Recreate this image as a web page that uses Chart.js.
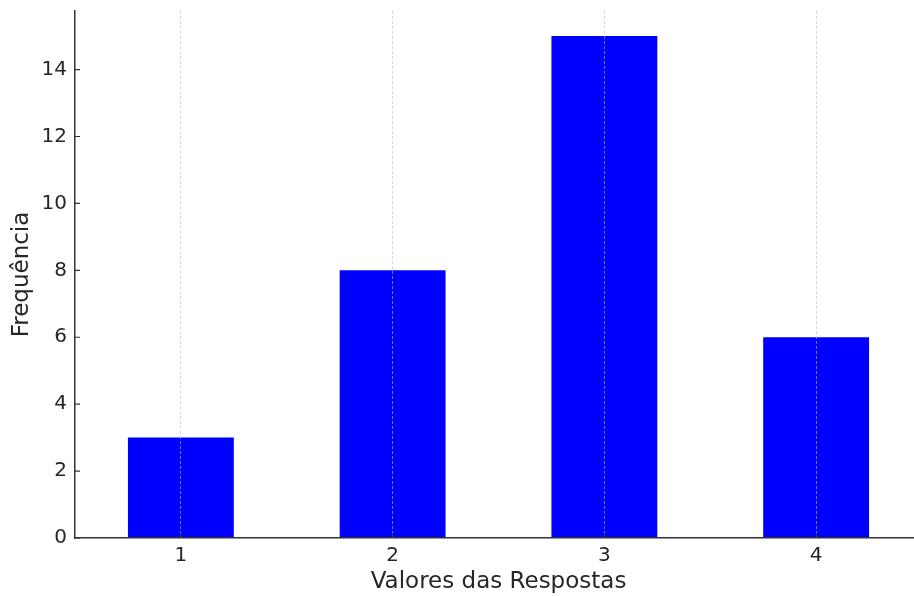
<!DOCTYPE html>
<html lang="pt">
<head>
  <meta charset="UTF-8" />
  <title>Frequência dos Valores das Respostas</title>
  <script src="https://cdn.jsdelivr.net/npm/chart.js"></script>
  <style>
    html, body {
      margin: 0;
      padding: 0;
      background: #ffffff;
      overflow: hidden;
    }
    #chart-box {
      width: 930px;
      height: 596px;
      position: relative;
    }
  </style>
</head>
<body>
  <div id="chart-box">
    <canvas id="barChart"></canvas>
  </div>

  <script>
    // data
    const categories = ['1', '2', '3', '4'];
    const frequencies = [3, 8, 15, 6];
    const yTicks = [0, 2, 4, 6, 8, 10, 12, 14];

    const textColor = '#262626';
    const axisColor = '#333333';
    const tickFont = { family: "'DejaVu Sans', sans-serif", size: 20 };
    const titleFont = { family: "'DejaVu Sans', sans-serif", size: 23 };

    // small inward tick marks like the original plot
    const innerTicks = {
      id: 'innerTicks',
      afterDraw(chart) {
        const { ctx, chartArea, scales } = chart;
        ctx.save();
        ctx.strokeStyle = axisColor;
        ctx.lineWidth = 1.2;
        ctx.beginPath();
        scales.y.ticks.forEach(t => {
          const y = scales.y.getPixelForValue(t.value);
          ctx.moveTo(chartArea.left, y);
          ctx.lineTo(chartArea.left + 5, y);
        });
        categories.forEach((c, i) => {
          const x = scales.x.getPixelForValue(i);
          ctx.moveTo(x, chartArea.bottom);
          ctx.lineTo(x, chartArea.bottom - 5);
        });
        ctx.stroke();
        ctx.restore();
      }
    };

    new Chart(document.getElementById('barChart'), {
      type: 'bar',
      data: {
        labels: categories,
        datasets: [{
          label: 'Frequência',
          data: frequencies,
          backgroundColor: '#0000ff',
          borderWidth: 0,
          categoryPercentage: 1.0,
          barPercentage: 0.5
        }]
      },
      options: {
        responsive: true,
        maintainAspectRatio: false,
        animation: false,
        layout: { padding: { left: 0, right: 8, top: 11, bottom: 0 } },
        plugins: {
          legend: { display: false },
          tooltip: { enabled: false }
        },
        scales: {
          x: {
            offset: true,
            grid: {
              display: true,
              offset: false,
              drawTicks: false,
              color: 'rgba(190,190,190,0.75)',
              lineWidth: 0.8,
              z: 1
            },
            border: { display: true, color: axisColor, width: 1.5, dash: [3, 2], z: 1 },
            ticks: { color: textColor, font: tickFont, padding: 6, maxRotation: 0 },
            title: {
              display: true,
              text: 'Valores das Respostas',
              color: textColor,
              font: titleFont,
              padding: { top: 2, bottom: 0 }
            },
            afterFit(scale) {
              scale.height = 58;
              scale.paddingLeft = 0;
              scale.paddingRight = 0;
            }
          },
          y: {
            min: 0,
            max: 15.75,
            grid: { display: false, drawTicks: false },
            border: { display: true, color: axisColor, width: 1.5 },
            afterBuildTicks(scale) {
              scale.ticks = yTicks.map(v => ({ value: v }));
            },
            ticks: { color: textColor, font: tickFont, padding: 8 },
            title: {
              display: true,
              text: 'Frequência',
              color: textColor,
              font: titleFont,
              padding: { top: 8, bottom: 2 }
            },
            afterFit(scale) {
              scale.width = 75;
              scale.paddingTop = 0;
              scale.paddingBottom = 0;
            }
          }
        }
      },
      plugins: [innerTicks]
    });
  </script>
</body>
</html>
